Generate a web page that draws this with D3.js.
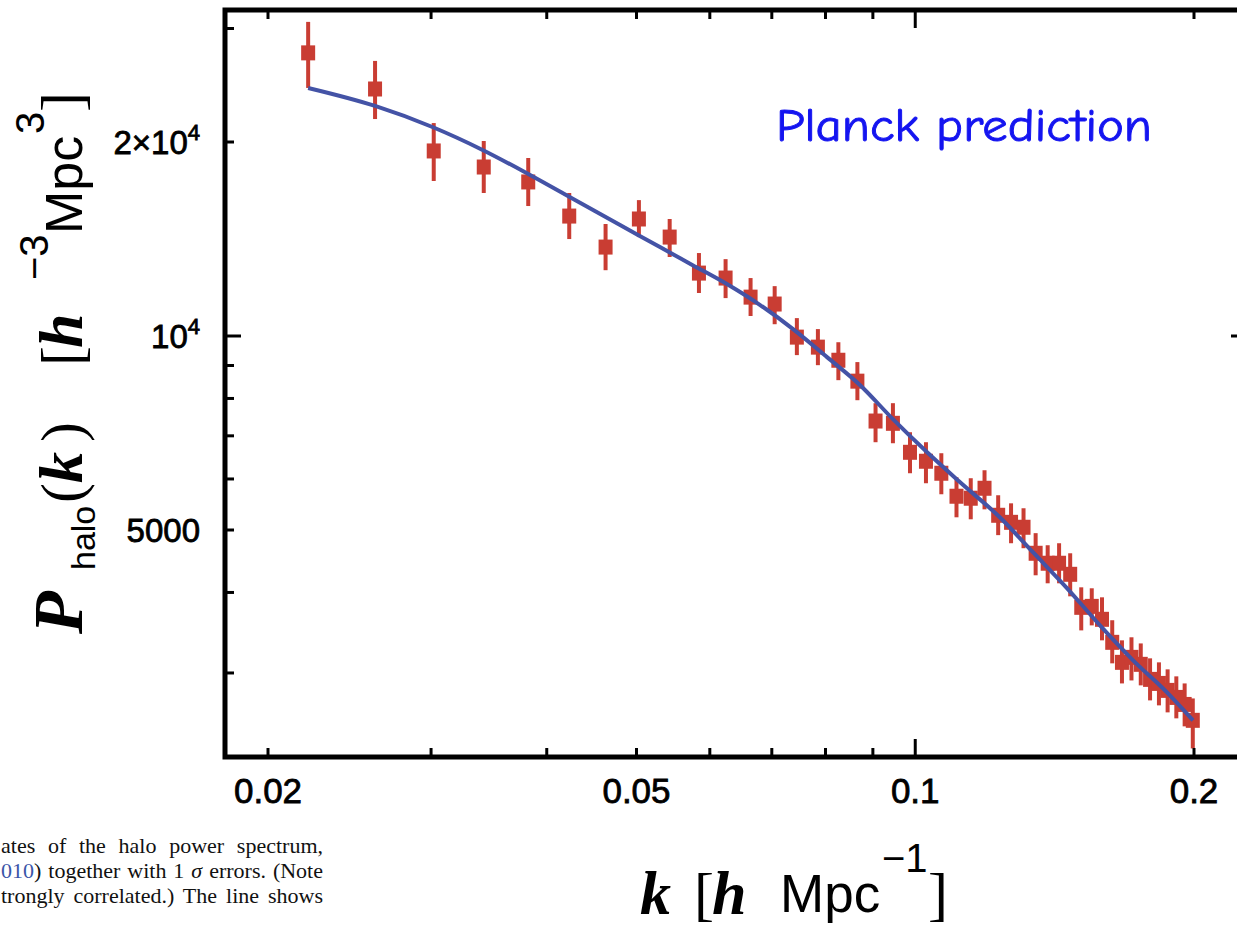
<!DOCTYPE html>
<html>
<head>
<meta charset="utf-8">
<script src="https://cdn.jsdelivr.net/npm/d3@7"></script>
<style>
  html, body { margin: 0; padding: 0; background: #fff; }
  svg { display: block; }
</style>
</head>
<body>
<svg id="chart" width="1237" height="926"></svg>
<script>
// ---- data ----
const kValues = [0.0221,0.0261,0.0302,0.0342,0.0382,0.0423,0.0463,0.0503,0.0543,0.0584,
  0.0624,0.0664,0.0705,0.0745,0.0785,0.0826,0.0866,0.0906,0.0946,0.0987,
  0.1027,0.1067,0.1108,0.1148,0.1188,0.1229,0.1269,0.1309,0.1349,0.1390,
  0.1430,0.1470,0.1511,0.1551,0.1591,0.1632,0.1672,0.1712,0.1752,0.1793,
  0.1833,0.1873,0.1914,0.1954,0.1994];
const pValues = [27500,24170,19370,18290,17340,15350,13740,15190,14240,12520,
  12300,11490,11210,9960,9610,9170,8510,7380,7320,6600,
  6392,6124,5641,5601,5804,5270,5139,5049,4601,4440,
  4440,4268,3793,3806,3634,3347,3116,3172,3094,2932,
  2890,2819,2749,2681,2533];
const pUpper = [30720,26720,21400,20070,18890,16670,14920,16250,15190,13450,
  13160,12300,11950,10660,10250,9780,9110,7866,7866,7091,
  6842,6578,6037,6016,6190,5661,5500,5404,4944,4735,
  4769,4601,4074,4060,3931,3622,3371,3408,3334,3161,
  3116,3039,2964,2890,2739];
const pLower = [24260,21710,17400,16670,15910,14140,12650,14240,13260,11660,
  11450,10740,10430,9340,9010,8540,7950,6842,6817,6124,
  5909,5681,5232,5195,5383,4909,4769,4685,4253,4133,
  4133,3945,3493,3556,3371,3105,2890,2921,2870,2720,
  2672,2606,2551,2479,2291];

const lineK = [0.0221,0.0261,0.0301,0.0341,0.0382,0.0435,0.0480,0.0530,0.0575,0.0626,
  0.0680,0.0738,0.0803,0.0872,0.0946,0.1030,0.1118,0.1234,0.1340,
  0.1459,0.1583,0.1719,0.1870,0.1995];
const lineP = [24260,22750,21100,19440,17840,16080,14870,13740,12880,12040,
  11170,10250,9273,8388,7430,6600,5929,5232,4618,
  4060,3556,3139,2799,2533];

const xTickValues = [0.02,0.03,0.04,0.05,0.06,0.07,0.08,0.09,0.1,0.2];
const xTickLabels = {0.02:"0.02", 0.05:"0.05", 0.1:"0.1", 0.2:"0.2"};
const yTickValues = [3000,4000,5000,6000,7000,8000,9000,10000,20000,30000];
const yMajor = [10000];
const xMajor = [0.1];

const captionLines = [
  [{t:"ates of the halo power spectrum,", c:"#111"}],
  [{t:"010", c:"#3a55a8"}, {t:") together with 1 ", c:"#111"}, {t:"σ", c:"#111", it:true}, {t:" errors. (Note", c:"#111"}],
  [{t:"trongly correlated.) The line shows", c:"#111"}]
];

// ---- layout ----
const svg = d3.select("#chart");
const frame = {left: 225, top: 10, right: 1247, bottom: 757};
const x = d3.scaleLog().domain([0.02, 0.2]).range([268, 1194]);
const y = d3.scaleLog().domain([5000, 20000]).range([530, 142]);

const red = "#c93d33", blue = "#4453a6";

svg.append("rect").attr("width",1237).attr("height",926).attr("fill","#fff");

// data group
const pts = kValues.map((k,i)=>({k, p:pValues[i], hi:pUpper[i], lo:pLower[i]}));
const g = svg.append("g");
g.selectAll("line.err").data(pts).enter().append("line")
  .attr("x1", d=>x(d.k)).attr("x2", d=>x(d.k))
  .attr("y1", d=>y(d.hi)).attr("y2", d=>y(d.lo))
  .attr("stroke", red).attr("stroke-width", 4);
g.selectAll("rect.pt").data(pts).enter().append("rect")
  .attr("x", d=>x(d.k)-7).attr("y", d=>y(d.p)-7.5)
  .attr("width", 14).attr("height", 15).attr("fill", red);

const lineData = lineK.map((k,i)=>({k, p:lineP[i]}));
g.append("path").datum(lineData)
  .attr("d", d3.line().x(d=>x(d.k)).y(d=>y(d.p)).curve(d3.curveMonotoneX))
  .attr("fill","none").attr("stroke", blue).attr("stroke-width", 4)
  .attr("stroke-linejoin","round");

// ticks
const tickG = svg.append("g").attr("stroke","#000").attr("stroke-width",3);
xTickValues.forEach(v=>{
  const L = xMajor.includes(v) ? 18 : 9;
  tickG.append("line").attr("x1",x(v)).attr("x2",x(v)).attr("y1",frame.bottom).attr("y2",frame.bottom-L);
  tickG.append("line").attr("x1",x(v)).attr("x2",x(v)).attr("y1",frame.top).attr("y2",frame.top+L);
});
yTickValues.forEach(v=>{
  const L = yMajor.includes(v) ? 16 : 9;
  tickG.append("line").attr("y1",y(v)).attr("y2",y(v)).attr("x1",frame.left).attr("x2",frame.left+L);
  tickG.append("line").attr("y1",y(v)).attr("y2",y(v)).attr("x1",frame.right).attr("x2",frame.right-L);
});

// frame
svg.append("rect").attr("x",frame.left).attr("y",frame.top)
  .attr("width",frame.right-frame.left).attr("height",frame.bottom-frame.top)
  .attr("fill","none").attr("stroke","#000").attr("stroke-width",5);

// x tick labels
const tickFont = "'Liberation Sans', Arial, Helvetica, sans-serif";
Object.keys(xTickLabels).forEach(key=>{
  svg.append("text").attr("x", x(+key)).attr("y", 803)
    .attr("text-anchor","middle").attr("font-family",tickFont).attr("font-size",35)
    .attr("fill","#000").attr("stroke","#000").attr("stroke-width",0.8)
    .text(xTickLabels[key]);
});
// y tick labels
function yLabel(v, parts){
  const t = svg.append("text").attr("x", 200).attr("y", y(v)+12)
    .attr("text-anchor","end").attr("font-family",tickFont).attr("font-size",33)
    .attr("fill","#000").attr("stroke","#000").attr("stroke-width",0.8);
  parts.forEach(p=>{
    const s = t.append("tspan").text(p.t);
    if(p.sup){ s.attr("font-size",22).attr("dy",-14); }
  });
}
yLabel(20000, [{t:"2×10"},{t:"4",sup:true}]);
yLabel(10000, [{t:"10"},{t:"4",sup:true}]);
yLabel(5000, [{t:"5000"}]);

// axis titles
const serif = "'Liberation Serif', 'DejaVu Serif', serif";
function piece(t, o){
  const s = t.append("tspan").attr("x", o.x).attr("y", o.y)
    .attr("font-family", o.sans ? tickFont : serif)
    .attr("font-size", o.size).text(o.text);
  if(o.it){ s.attr("font-style","italic").attr("font-weight","bold"); }
  return s;
}
// x title (screen coordinates)
const xt = svg.append("text").attr("fill","#000");
piece(xt, {text:"k",   x:640, y:914, size:62, it:true});
piece(xt, {text:"[",   x:694, y:914, size:60});
piece(xt, {text:"h",   x:712, y:914, size:62, it:true});
piece(xt, {text:"Mpc", x:780, y:912, size:53, sans:true});
piece(xt, {text:"−1",  x:882, y:872, size:40, sans:true});
piece(xt, {text:"]",   x:928, y:914, size:60});

// y title (rotated: x = distance upward from screen y 634, y = baseline offset)
const yt = svg.append("text").attr("transform","translate(82,634) rotate(-90)").attr("fill","#000");
piece(yt, {text:"P",    x:0,   y:0,  size:70, it:true});
piece(yt, {text:"halo", x:64,  y:13, size:34, sans:true});
piece(yt, {text:"(",    x:131, y:0,  size:60});
piece(yt, {text:"k",    x:151, y:0,  size:62, it:true});
piece(yt, {text:")",    x:192, y:0,  size:60});
piece(yt, {text:"[",    x:268, y:0,  size:60});
piece(yt, {text:"h",    x:286, y:0,  size:62, it:true});
piece(yt, {text:"−3",   x:354, y:-34, size:40, sans:true});
piece(yt, {text:"Mpc",  x:400, y:0,  size:52, sans:true});
piece(yt, {text:"3",    x:500, y:-38, size:40, sans:true});
piece(yt, {text:"]",    x:522, y:0,  size:60});

// annotation
svg.append("text").attr("x", 776).attr("y", 141)
  .attr("font-family","'Comic Sans MS', 'Comic Neue', Lato, 'Open Sans', sans-serif")
  .attr("font-size",46).attr("fill","#1414f0").attr("stroke","#1414f0").attr("stroke-width",0.9)
  .attr("textLength",376).attr("lengthAdjust","spacingAndGlyphs")
  .text("Planck prediction");

// caption fragment (justified)
const capBase = [853, 878, 903];
captionLines.forEach((parts,i)=>{
  const t = svg.append("text").attr("x", 1).attr("y", capBase[i])
    .attr("font-family",serif).attr("font-size",22).attr("fill","#111");
  parts.forEach(p=>{
    const s = t.append("tspan").attr("fill",p.c).text(p.t);
    if(p.it) s.attr("font-style","italic");
  });
  const natural = t.node().getComputedTextLength();
  const full = parts.map(p=>p.t).join("");
  const spaces = (full.match(/ /g)||[]).length;
  if(spaces>0){ t.attr("word-spacing", (322 - natural)/spaces); }
});
</script>
</body>
</html>
